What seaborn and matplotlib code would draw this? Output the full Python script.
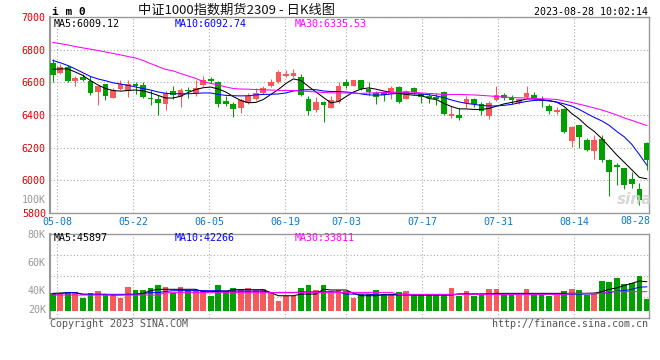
import numpy as np
import pandas as pd
import matplotlib
matplotlib.use("Agg")
import matplotlib.pyplot as plt
import seaborn as sns

# -------------------------------
# Data (IM0 2309)
# -------------------------------

dates = ["05-05", "05-08", "05-09", "05-10", "05-11", "05-12", "05-15", "05-16", "05-17", "05-18",
         "05-19", "05-22", "05-23", "05-24", "05-25", "05-26", "05-29", "05-30", "05-31", "06-01",
         "06-02", "06-05", "06-06", "06-07", "06-08", "06-09", "06-12", "06-13", "06-14", "06-15",
         "06-16", "06-19", "06-20", "06-21", "06-26", "06-27", "06-28", "06-29", "06-30", "07-03",
         "07-04", "07-05", "07-06", "07-07", "07-10", "07-11", "07-12", "07-13", "07-14", "07-17",
         "07-18", "07-19", "07-20", "07-21", "07-24", "07-25", "07-26", "07-27", "07-28", "07-31",
         "08-01", "08-02", "08-03", "08-04", "08-07", "08-08", "08-09", "08-10", "08-11", "08-14",
         "08-15", "08-16", "08-17", "08-18", "08-21", "08-22", "08-23", "08-24", "08-25", "08-28"]

opens = [6720, 6655, 6695, 6608, 6632, 6607, 6540, 6587, 6505, 6561,
         6545, 6592, 6582, 6505, 6497, 6468, 6550, 6512, 6553, 6532,
         6582, 6618, 6605, 6483, 6470, 6445, 6475, 6497, 6536, 6575,
         6602, 6637, 6637, 6635, 6500, 6428, 6480, 6445, 6482, 6600,
         6578, 6613, 6561, 6536, 6536, 6527, 6573, 6500, 6565, 6526,
         6518, 6510, 6540, 6393, 6400, 6472, 6495, 6470, 6393, 6490,
         6520, 6505, 6475, 6512, 6525, 6500, 6458, 6420, 6434, 6240,
         6337, 6246, 6180, 6256, 6122, 6092, 6073, 6006, 5950, 6230]
highs = [6740, 6715, 6705, 6640, 6652, 6638, 6580, 6590, 6567, 6613,
         6612, 6601, 6601, 6556, 6525, 6550, 6580, 6567, 6573, 6613,
         6637, 6632, 6610, 6515, 6480, 6505, 6535, 6567, 6580, 6623,
         6673, 6673, 6680, 6648, 6519, 6510, 6485, 6515, 6601, 6620,
         6613, 6615, 6600, 6545, 6540, 6580, 6580, 6556, 6573, 6530,
         6535, 6536, 6545, 6455, 6445, 6515, 6505, 6480, 6485, 6577,
         6535, 6520, 6500, 6577, 6540, 6515, 6470, 6450, 6440, 6335,
         6340, 6260, 6275, 6280, 6130, 6108, 6075, 6052, 5985, 6232]
lows = [6600, 6648, 6605, 6576, 6607, 6525, 6464, 6490, 6503, 6555,
        6512, 6530, 6505, 6460, 6399, 6430, 6500, 6450, 6505, 6515,
        6580, 6593, 6450, 6458, 6390, 6410, 6470, 6490, 6530, 6570,
        6598, 6632, 6632, 6515, 6400, 6418, 6356, 6440, 6475, 6568,
        6575, 6555, 6525, 6465, 6485, 6500, 6475, 6495, 6530, 6475,
        6475, 6460, 6400, 6383, 6372, 6444, 6450, 6400, 6373, 6485,
        6490, 6470, 6470, 6505, 6495, 6450, 6405, 6405, 6290, 6205,
        6200, 6180, 6128, 6115, 5907, 5970, 5945, 5955, 5848, 6062]
closes = [6645, 6695, 6607, 6628, 6614, 6532, 6577, 6515, 6552, 6587,
          6592, 6578, 6510, 6495, 6473, 6536, 6522, 6555, 6547, 6567,
          6613, 6606, 6470, 6466, 6434, 6492, 6515, 6536, 6566, 6605,
          6665, 6648, 6655, 6521, 6424, 6480, 6460, 6490, 6576, 6578,
          6613, 6561, 6540, 6512, 6521, 6567, 6480, 6546, 6542, 6510,
          6505, 6496, 6408, 6409, 6384, 6495, 6470, 6422, 6475, 6525,
          6506, 6491, 6495, 6532, 6502, 6486, 6424, 6430, 6298, 6325,
          6265, 6186, 6246, 6122, 6050, 6082, 5969, 5975, 5880, 6125]

ma5 = [6680, 6682, 6682, 6663, 6642, 6611, 6584, 6562, 6550, 6546,
       6550, 6553, 6548, 6536, 6520, 6504, 6504, 6515, 6538, 6556,
       6567, 6571, 6559, 6541, 6513, 6489, 6475, 6477, 6495, 6526,
       6556, 6593, 6621, 6611, 6575, 6541, 6507, 6474, 6483, 6513,
       6541, 6559, 6566, 6558, 6547, 6538, 6532, 6526, 6521, 6520,
       6501, 6495, 6471, 6452, 6438, 6437, 6434, 6434, 6440, 6454,
       6468, 6477, 6486, 6498, 6498, 6493, 6489, 6479, 6452, 6409,
       6376, 6333, 6299, 6256, 6206, 6155, 6110, 6064, 6018, 6009.12]
ma10 = [6734, 6720, 6703, 6682, 6659, 6636, 6621, 6610, 6597, 6590,
        6581, 6572, 6562, 6553, 6541, 6533, 6530, 6530, 6530, 6532,
        6535, 6535, 6526, 6520, 6518, 6517, 6518, 6523, 6526, 6527,
        6529, 6535, 6547, 6553, 6555, 6555, 6547, 6544, 6544, 6541,
        6536, 6529, 6523, 6522, 6523, 6529, 6532, 6535, 6530, 6529,
        6524, 6517, 6506, 6492, 6480, 6471, 6465, 6459, 6455, 6456,
        6459, 6465, 6474, 6483, 6489, 6491, 6486, 6479, 6468, 6455,
        6434, 6409, 6385, 6364, 6336, 6299, 6266, 6220, 6158, 6092.74]
ma30 = [6844, 6837, 6829, 6819, 6811, 6803, 6795, 6786, 6777, 6768,
        6758, 6749, 6734, 6715, 6697, 6679, 6670, 6654, 6639, 6624,
        6605, 6593, 6584, 6572, 6562, 6559, 6558, 6556, 6554, 6553,
        6551, 6550, 6550, 6547, 6544, 6541, 6538, 6536, 6535, 6535,
        6533, 6532, 6535, 6536, 6538, 6538, 6540, 6540, 6540, 6535,
        6532, 6529, 6526, 6526, 6526, 6524, 6523, 6520, 6517, 6513,
        6510, 6507, 6505, 6504, 6501, 6499, 6498, 6495, 6486, 6477,
        6466, 6455, 6443, 6431, 6416, 6400, 6382, 6367, 6351, 6335.53]

volumes = [37600, 36900, 38600, 38600, 34500, 37600, 39500, 36900, 36400, 34500,
           42100, 40000, 40000, 41600, 43600, 42100, 38100, 42100, 40000, 40000,
           40000, 35900, 43600, 39500, 41600, 40700, 41600, 40000, 40700, 38800,
           32400, 35900, 35900, 41600, 43600, 40000, 43600, 38800, 40000, 39500,
           34500, 37100, 37100, 40000, 37100, 37100, 38800, 39500, 36400, 37100,
           37100, 36900, 36900, 41600, 35700, 39500, 35900, 36400, 40700, 40700,
           37100, 36400, 36400, 40700, 36400, 36400, 35900, 36400, 39500, 40700,
           40000, 36400, 36900, 46700, 45900, 48800, 44300, 45200, 50000, 33600]
vol_ma5 = [37600, 37800, 38100, 38100, 37000, 36900, 36900, 36900, 36400, 36500,
           36900, 36900, 37600, 39500, 40500, 40500, 40500, 40500, 40500, 40500,
           38800, 38800, 39200, 39200, 40200, 40200, 40200, 40200, 40200, 38100,
           35900, 35900, 35900, 37100, 37100, 37100, 40500, 40000, 40000, 40000,
           37600, 35900, 35900, 35900, 36900, 36900, 36900, 36900, 36400, 36400,
           36400, 36400, 36400, 36400, 37100, 37100, 37100, 37100, 37100, 37600,
           37600, 37600, 37600, 37600, 37600, 37600, 37600, 37600, 37600, 37600,
           37600, 37600, 37800, 38800, 40500, 41500, 43200, 44800, 46400, 45897]
vol_ma10 = [36900, 37500, 38100, 38100, 36900, 36900, 36900, 36900, 36900, 36900,
            36900, 36900, 37500, 38100, 38100, 39000, 39500, 39500, 39500, 39500,
            39500, 39500, 39500, 39200, 39200, 39200, 39200, 39200, 39200, 38100,
            38100, 38100, 38100, 38600, 38600, 38600, 38600, 38800, 38500, 37100,
            37100, 37100, 37100, 36400, 36400, 36400, 36400, 36400, 36400, 36400,
            36600, 36600, 36600, 36600, 37100, 37100, 37100, 37100, 37100, 37100,
            37100, 37100, 37100, 37100, 37100, 37100, 37100, 37100, 37100, 37100,
            37100, 37100, 37300, 37600, 38300, 39200, 39500, 40500, 42000, 42266]
vol_ma30 = [36400, 36400, 36400, 36400, 36400, 36400, 36400, 36400, 36400, 36400,
            36400, 36400, 36400, 36400, 36400, 38100, 38100, 38100, 38100, 38100,
            38100, 38100, 38100, 38100, 38100, 38100, 38100, 38100, 38100, 38100,
            38300, 38300, 38300, 38300, 38300, 38300, 38300, 38300, 38300, 38300,
            38300, 38300, 38300, 38300, 38300, 38300, 36900, 36900, 36900, 36900,
            36900, 36900, 36900, 36900, 36900, 36900, 36900, 36900, 36900, 36900,
            36900, 36900, 36900, 36900, 36900, 36900, 36900, 36900, 36900, 37600,
            37600, 37600, 37600, 37600, 38800, 38800, 38800, 38800, 38800, 38800]

tick_labels = ["05-08", "05-22", "06-05", "06-19", "07-03", "07-17", "07-31", "08-14"]
price_ticks = [5800, 6000, 6200, 6400, 6600, 6800, 7000]
vol_ticks = [40000, 60000, 80000]

df = pd.DataFrame({"date": dates, "open": opens, "high": highs, "low": lows,
                   "close": closes, "ma5": ma5, "ma10": ma10, "ma30": ma30,
                   "vol": volumes, "vma5": vol_ma5, "vma10": vol_ma10, "vma30": vol_ma30})
df["x"] = np.arange(len(df))

# -------------------------------
# Style
# -------------------------------

sns.set_style("white")
plt.rcParams["font.family"] = ["DejaVu Sans Mono"]

RED = "#f75a5a"
GREEN = "#00a000"
GRID = "#aaaaaa"
FRAME = "#999999"
W, H = 660, 360
LW = 0.75


def fx(x):
    return x / W


def fy(y):
    return 1 - y / H


fig = plt.figure(figsize=(6.6, 3.6), dpi=100)
ax = fig.add_axes([fx(50), fy(213), fx(649) - fx(50), fy(17) - fy(213)])
axv = fig.add_axes([fx(50), fy(318), fx(649) - fx(50), fy(234) - fy(318)])

up = df["close"] >= df["open"]
colors = np.where(up, RED, GREEN)

# -------------------------------
# Price panel: candles + MAs
# -------------------------------

ax.vlines(df["x"], df["low"], df["high"], colors=colors, linewidth=LW, zorder=3)
body_lo = np.minimum(df["open"], df["close"])
body_h = np.maximum((df["close"] - df["open"]).abs(), 5)
ax.bar(df["x"], body_h, bottom=body_lo, width=0.76, color=colors, linewidth=0, zorder=4)

sns.lineplot(data=df, x="x", y="ma5", color="black", linewidth=LW, ax=ax, zorder=5, errorbar=None)
sns.lineplot(data=df, x="x", y="ma10", color="#0000ff", linewidth=LW, ax=ax, zorder=5, errorbar=None)
sns.lineplot(data=df, x="x", y="ma30", color="#ff00ff", linewidth=LW, ax=ax, zorder=5, errorbar=None)

# date grid sits on a slightly wider pitch than the candles in the original
tick_idx = np.array([dates.index(t) for t in tick_labels])
tick_pos = ((tick_idx - 1) * 7.6 - 3.0) / 7.52 + 1

xlim = (-0.37, 79.28)
for a in (ax, axv):
    a.set_xlim(*xlim)
    a.set_xlabel("")
    a.set_ylabel("")
    a.set_xticks(tick_pos)
    for s in a.spines.values():
        s.set_color(FRAME)
        s.set_linewidth(1)
    a.spines["left"].set_linewidth(1.5)
    a.tick_params(length=0)
    a.grid(True, color=GRID, linestyle=(0, (1, 2)), linewidth=0.8)
    a.set_axisbelow(True)

ax.set_ylim(5800, 7000)
ax.set_yticks(price_ticks)
ax.set_yticklabels([str(v) for v in price_ticks], color="#e00000", fontsize=7.2)
ax.set_xticklabels(tick_labels, color="#0a78d0", fontsize=7.2)
ax.tick_params(axis="x", pad=3)
ax.tick_params(axis="y", pad=3)

# -------------------------------
# Volume panel
# -------------------------------

vol_base = 25000
axv.bar(df["x"], df["vol"] - vol_base, bottom=vol_base, width=0.76, color=colors, linewidth=0, zorder=3)
sns.lineplot(data=df, x="x", y="vma5", color="black", linewidth=LW, ax=axv, zorder=5, errorbar=None)
sns.lineplot(data=df, x="x", y="vma10", color="#0000ff", linewidth=LW, ax=axv, zorder=5, errorbar=None)
sns.lineplot(data=df, x="x", y="vma30", color="#ff00ff", linewidth=LW, ax=axv, zorder=5, errorbar=None)
axv.set_xlabel("")
axv.set_ylabel("")
axv.set_ylim(20000, 80000)
axv.set_yticks(vol_ticks)
axv.set_yticklabels([f"{v // 1000}K" for v in vol_ticks], color=FRAME, fontsize=7.2)
axv.set_xticklabels([])
axv.tick_params(axis="y", pad=3)
axv.grid(False, axis="y")
for v in (35000, 50000, 65000):
    axv.axhline(v, color=GRID, linestyle=(0, (1, 2)), linewidth=0.8, zorder=1)
axv.annotate("20K", xy=(0, 20000), xycoords=("axes fraction", "data"), xytext=(-3, 6),
             textcoords="offset points", ha="right", va="center", color=FRAME, fontsize=7.2)

# -------------------------------
# Texts
# -------------------------------

mono = dict(fontsize=7.2, family="DejaVu Sans Mono")
fig.text(fx(52), fy(12), "i m 0", fontsize=8, weight="bold", va="center", ha="left", color="black")
fig.text(fx(236), fy(10), "中证1000指数期货2309 - 日K线图", fontsize=9.5, ha="center", va="center",
         family=["Noto Sans CJK SC", "DejaVu Sans"], color="#111111")
fig.text(fx(648), fy(12), "2023-08-28 10:02:14", ha="right", va="center", color="black", **mono)

fig.text(fx(54), fy(24), "MA5:6009.12", ha="left", va="center", color="black", **mono)
fig.text(fx(175), fy(24), "MA10:6092.74", ha="left", va="center", color="#0000ff", **mono)
fig.text(fx(295), fy(24), "MA30:6335.53", ha="left", va="center", color="#ff00ff", **mono)

fig.text(fx(54), fy(238), "MA5:45897", ha="left", va="center", color="black", **mono)
fig.text(fx(175), fy(238), "MA10:42266", ha="left", va="center", color="#0000ff", **mono)
fig.text(fx(295), fy(238), "MA30:33811", ha="left", va="center", color="#ff00ff", **mono)

fig.text(fx(46), fy(200), "100K", ha="right", va="center", color=FRAME, **mono)
fig.text(fx(635), fy(221), "08-28", ha="center", va="center", color="#0a78d0", **mono)
fig.text(fx(635), fy(199), "sina", ha="center", va="center", color="#d0d0d0", fontsize=11,
         style="italic", weight="bold", family="DejaVu Sans", alpha=0.85)

fig.text(fx(50), fy(324), "Copyright 2023 SINA.COM", ha="left", va="center", color="#555555", **mono)
fig.text(fx(648), fy(324), "http://finance.sina.com.cn", ha="right", va="center", color="#555555", **mono)

fig.savefig("out.png", dpi=100)
